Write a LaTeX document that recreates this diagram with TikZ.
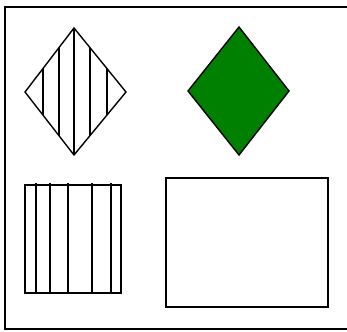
\documentclass[tikz,border=0pt]{standalone}
\usepackage{tikz}
\usetikzlibrary{calc}
\definecolor{leafgreen}{RGB}{0,128,0}

\begin{document}
\begin{tikzpicture}[x=1pt, y=-1pt, line width=1.4pt, hatch/.style={line width=1.4pt}]
        \useasboundingbox (0,0) rectangle (347,331);

        % frame
        \draw (347,7) -- (5,7) -- (5,329) -- (347,329);

        % hatched diamond
        \coordinate (dtop) at (74,28);
        \coordinate (dright) at (126,92);
        \coordinate (dbottom) at (74,155);
        \coordinate (dleft) at (25,92);
        \begin{scope}
            \clip (dtop) -- (dright) -- (dbottom) -- (dleft) -- cycle;
            \foreach \hx in {43,59,74,90,107}
                \draw[hatch] (\hx,20) -- (\hx,160);
        \end{scope}
        \draw (dtop) -- (dright) -- (dbottom) -- (dleft) -- cycle;

        % green diamond
        \coordinate (gtop) at (239,27);
        \coordinate (gright) at (289,91);
        \coordinate (gbottom) at (239,155);
        \coordinate (gleft) at (188,91);
        \draw[fill=leafgreen] (gtop) -- (gright) -- (gbottom) -- (gleft) -- cycle;

        % hatched rectangle
        \coordinate (rnw) at (25,185);
        \coordinate (rse) at (121,293);
        \draw (rnw) rectangle (rse);
        \foreach \hx in {36,50,68,92,111}
            \draw[hatch] (\hx,183) -- (\hx,293);

        % plain rectangle
        \coordinate (pnw) at (166,178);
        \coordinate (pse) at (328,307);
        \draw (pnw) rectangle (pse);
    \end{tikzpicture}
\end{document}
